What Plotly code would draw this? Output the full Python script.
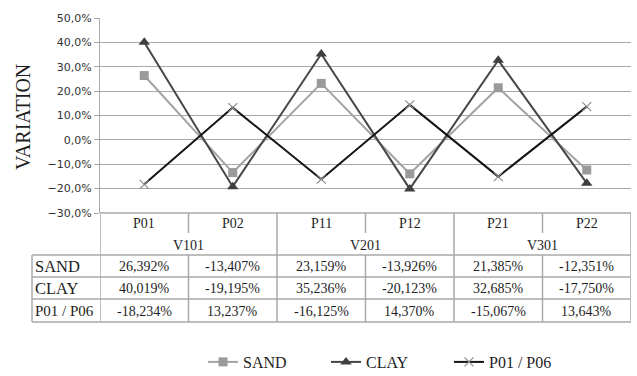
import plotly.graph_objects as go

categories = ["P01", "P02", "P11", "P12", "P21", "P22"]
groups = ["V101", "V201", "V301"]
series_names = ["SAND", "CLAY", "P01 / P06"]
sand = [26.392, -13.407, 23.159, -13.926, 21.385, -12.351]
clay = [40.019, -19.195, 35.236, -20.123, 32.685, -17.750]
p01_p06 = [-18.234, 13.237, -16.125, 14.370, -15.067, 13.643]
y_ticks = [-0.3, -0.2, -0.1, 0.0, 0.1, 0.2, 0.3, 0.4, 0.5]

W, H = 637, 376
ML, MR, MT, MB = 100, 6, 18, 163
PLOT_TOP, PLOT_BOT = MT, H - MB


def py(pix):
    """convert pixel row to paper y"""
    return (PLOT_BOT - pix) / (PLOT_BOT - PLOT_TOP)


def fmt(v):
    return ("%.3f%%" % v).replace(".", ",")


series = [sand, clay, p01_p06]
styles = [
    dict(line=dict(color="#a3a3a3", width=2),
         marker=dict(symbol="square", size=9, color="#9a9a9a")),
    dict(line=dict(color="#464646", width=2),
         marker=dict(symbol="triangle-up", size=10, color="#3f3f3f")),
    dict(line=dict(color="#141414", width=2),
         marker=dict(symbol="x-thin", size=9, color="#8c8c8c",
                     line=dict(color="#8c8c8c", width=1.2))),
]

fig = go.Figure()
for name, vals, st in zip(series_names, series, styles):
    fig.add_trace(go.Scatter(
        x=categories, y=[v / 100 for v in vals], name=name,
        mode="lines+markers", line=st["line"], marker=st["marker"],
    ))

GRID = "#a9a9a9"
TXT = "#1e1e1e"
SERIF = "'Liberation Serif', 'DejaVu Serif', serif"

shapes = []
annotations = []
n = len(categories)
top = py(PLOT_BOT)
y_inner = py(233)
y_hdr = py(255)
row_bounds = [255, 277, 299, 322]
x_lab = (32 - ML) / (W - ML - MR)

# outer verticals and group boundaries
for xv in [-0.5, n - 0.5] + [g * 2 - 0.5 for g in range(1, len(groups))]:
    shapes.append(dict(type="line", xref="x", yref="paper", x0=xv, x1=xv,
                       y0=top, y1=py(322), line=dict(color=GRID, width=1.5)))
# inner boundaries
for g in range(len(groups)):
    xv = g * 2 + 0.5
    shapes.append(dict(type="line", xref="x", yref="paper", x0=xv, x1=xv,
                       y0=top, y1=y_inner, line=dict(color=GRID, width=1.5)))
    shapes.append(dict(type="line", xref="x", yref="paper", x0=xv, x1=xv,
                       y0=y_hdr, y1=py(322), line=dict(color=GRID, width=1.5)))
# top border
shapes.append(dict(type="line", xref="x", yref="paper", x0=-0.5, x1=n - 0.5,
                   y0=top, y1=top, line=dict(color=GRID, width=1.5)))
# row horizontals (incl. label column)
for rb in row_bounds:
    shapes.append(dict(type="line", xref="paper", yref="paper",
                       x0=x_lab, x1=1, y0=py(rb), y1=py(rb),
                       line=dict(color=GRID, width=1.5)))
# label column left border
shapes.append(dict(type="line", xref="paper", yref="paper",
                   x0=x_lab, x1=x_lab, y0=py(255), y1=py(322),
                   line=dict(color=GRID, width=1.5)))

# header text
for i, c in enumerate(categories):
    annotations.append(dict(x=i, y=py(223), xref="x", yref="paper", text=c,
                            xanchor="center", yanchor="middle",
                            showarrow=False, font=dict(family=SERIF, size=14, color=TXT)))
for g, gname in enumerate(groups):
    annotations.append(dict(x=g * 2 + 0.5, y=py(245), xref="x", yref="paper", text=gname,
                            xanchor="center", yanchor="middle",
                            showarrow=False, font=dict(family=SERIF, size=14, color=TXT)))
# rows
label_sizes = [16.5, 16.5, 15]
for r, (name, vals) in enumerate(zip(series_names, series)):
    yc = py((row_bounds[r] + row_bounds[r + 1]) / 2 + 0.5)
    annotations.append(dict(x=(33 - ML) / (W - ML - MR), y=yc, xref="paper", yref="paper",
                            text=name, showarrow=False, xanchor="left", yanchor="middle",
                            font=dict(family=SERIF, size=label_sizes[r], color=TXT)))
    for i, v in enumerate(vals):
        annotations.append(dict(x=i, y=yc, xref="x", yref="paper", text=fmt(v),
                                xanchor="center", yanchor="middle",
                                showarrow=False, font=dict(family=SERIF, size=14, color=TXT)))

# y-axis title as annotation
annotations.append(dict(x=(23 - ML) / (W - ML - MR), y=py(117), xref="paper", yref="paper",
                        text="VARIATION", textangle=-90, showarrow=False,
                        xanchor="center", yanchor="middle",
                        font=dict(family=SERIF, size=20, color=TXT)))

fig.update_layout(
    width=W, height=H,
    margin=dict(l=ML, r=MR, t=MT, b=MB, autoexpand=False),
    paper_bgcolor="white", plot_bgcolor="white",
    separators=", ",
    showlegend=True,
    legend=dict(orientation="h", x=(203 - ML) / (W - ML - MR), xanchor="left",
                y=py(362), yanchor="middle",
                font=dict(family=SERIF, size=16, color=TXT), itemwidth=30,
                entrywidth=78, bgcolor="rgba(0,0,0,0)"),
    shapes=shapes,
    annotations=annotations,
    xaxis=dict(type="category", range=[-0.5, n - 0.5], showticklabels=False,
               showgrid=False, zeroline=False, showline=False, ticks=""),
    yaxis=dict(range=[-0.3, 0.5], tickvals=y_ticks, tickformat=".1%",
               showgrid=True, gridcolor=GRID, gridwidth=1.3, zeroline=False,
               showline=True, linecolor=GRID, linewidth=1.3,
               ticks="outside", ticklen=5, tickcolor=GRID, tickwidth=1.3,
               tickfont=dict(family="DejaVu Sans", size=11, color="#333333")),
)

fig.write_html("out.html", config={"displayModeBar": False},
               post_script="document.body.style.margin='0px';document.body.style.overflow='hidden';")
